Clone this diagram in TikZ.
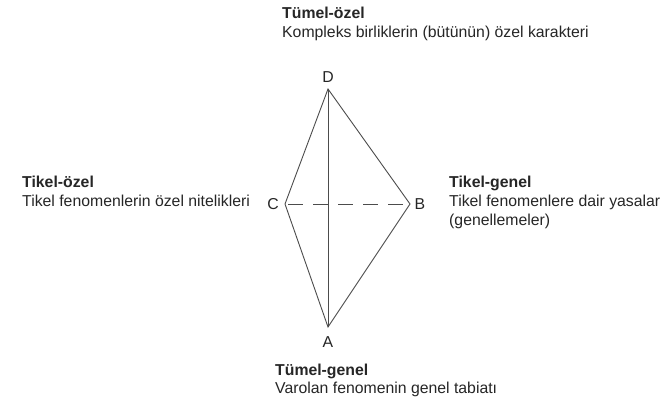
\documentclass[tikz,border=0pt]{standalone}
\usepackage{fontspec}
\setmainfont{Liberation Sans}
\begin{document}
\begin{tikzpicture}[x=1pt,y=-1pt,
  txt/.style={anchor=base west, inner sep=0pt, font=\fontsize{15.8}{18}\selectfont, text=black!85},
  head/.style={txt, font=\fontsize{15.8}{18}\selectfont\bfseries},
  vlabel/.style={inner sep=0pt, font=\fontsize{15.8}{18}\selectfont, text=black!85},
  edge/.style={draw=black!70, line width=0.9pt},
  hidden/.style={edge, dash pattern=on 15pt off 10pt, dash phase=-3pt}]
\useasboundingbox[fill=white] (0,0) rectangle (669,399);

% vertices of the kite
\coordinate (D) at (328,89);
\coordinate (C) at (285,204);
\coordinate (B) at (410,204);
\coordinate (A) at (328,327);

% sides and diagonals
\draw[edge, line join=miter] (D) -- (B) -- (A) -- (C) -- cycle;
\draw[edge] (D) -- (A);
\draw[hidden] (C) -- (B);

% vertex letters
\node[vlabel] (lD) at (328,77) {D};
\node[vlabel] (lC) at (273,204) {C};
\node[vlabel] (lB) at (420,204) {B};
\node[vlabel] (lA) at (328,342) {A};

% top caption
\node[head] (h1) at (282,18) {Tümel-özel};
\node[txt]  (t1) at (282,37) {Kompleks birliklerin (bütünün) özel karakteri};

% left caption
\node[head] (h2) at (22,187) {Tikel-özel};
\node[txt]  (t2) at (22,206) {Tikel fenomenlerin özel nitelikleri};

% right caption
\node[head] (h3) at (449,187) {Tikel-genel};
\node[txt]  (t3a) at (449,206) {Tikel fenomenlere dair yasalar};
\node[txt]  (t3b) at (449,225) {(genellemeler)};

% bottom caption
\node[head] (h4) at (275,375) {Tümel-genel};
\node[txt]  (t4) at (275,393) {Varolan fenomenin genel tabiatı};
\end{tikzpicture}
\end{document}
